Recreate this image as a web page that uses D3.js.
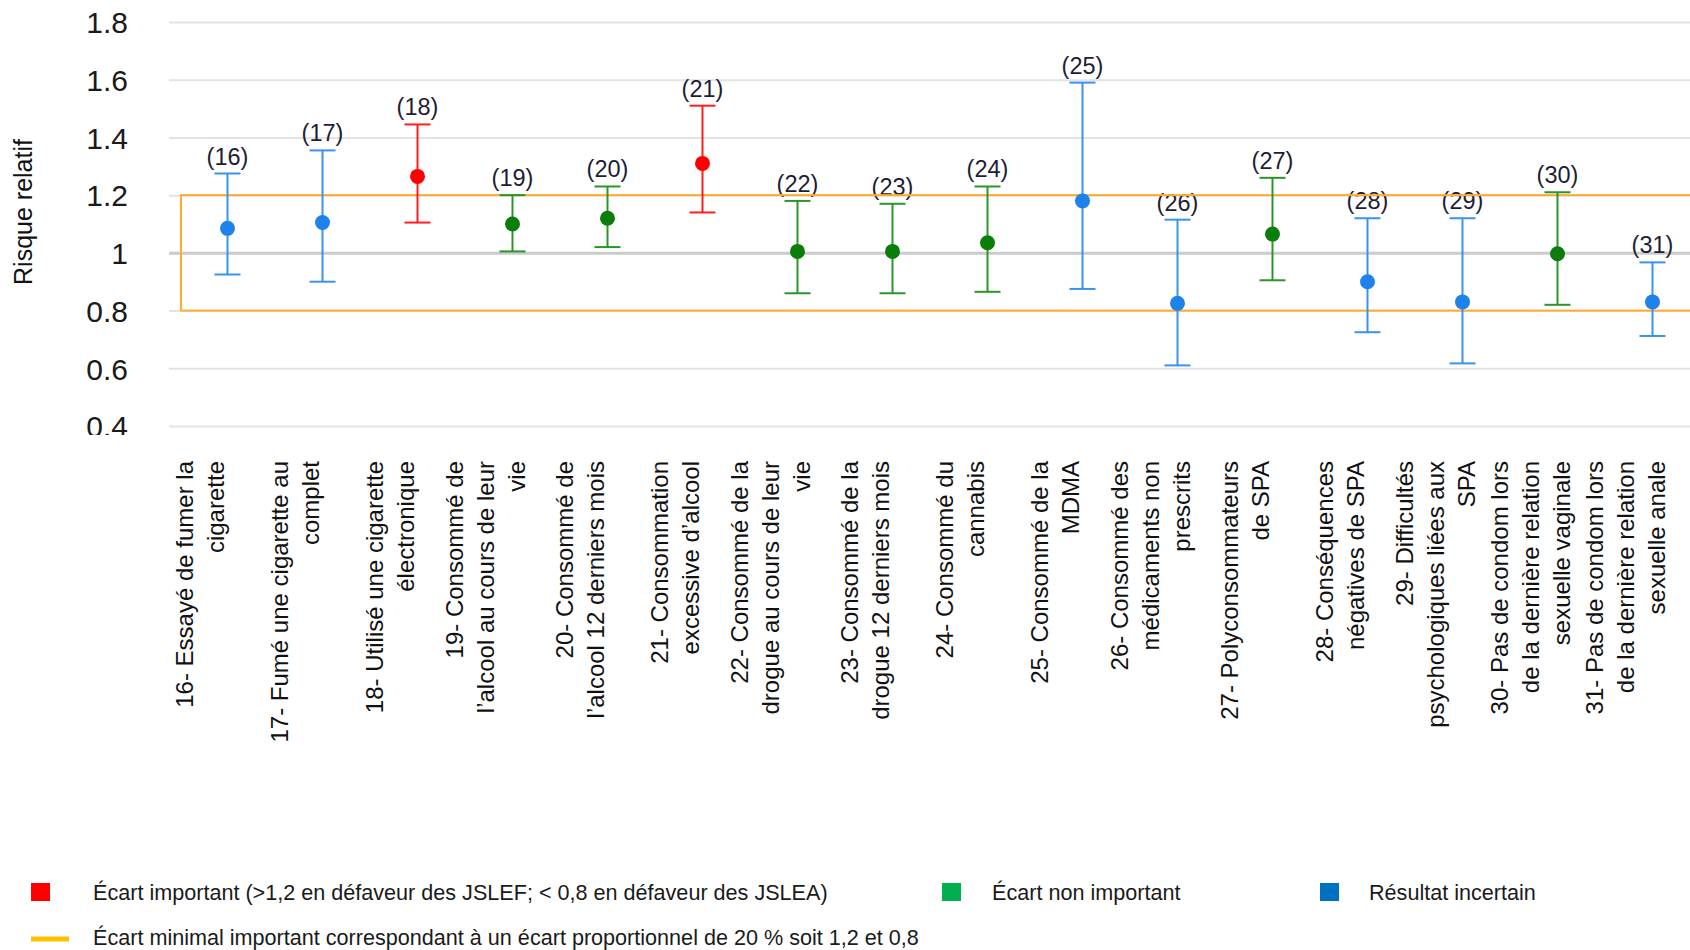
<!DOCTYPE html>
<html>
<head>
<meta charset="utf-8">
<script src="https://cdn.jsdelivr.net/npm/d3@7"></script>
<style>
  html, body { margin: 0; padding: 0; background: #ffffff; }
  svg { display: block; font-family: "Liberation Sans", Arial, Helvetica, sans-serif; }
</style>
</head>
<body>
<svg id="chart" width="1690" height="950"></svg>
<script>
// Indicators (category keys)
const indicators = ["16","17","18","19","20","21","22","23","24","25","26","27","28","29","30","31"];

// Category labels, already broken into lines
const labelLines = [
  ["16- Essayé de fumer la", "cigarette"],
  ["17- Fumé une cigarette au", "complet"],
  ["18- Utilisé une cigarette", "électronique"],
  ["19- Consommé de", "l’alcool au cours de leur", "vie"],
  ["20- Consommé de", "l’alcool 12 derniers mois"],
  ["21- Consommation", "excessive d’alcool"],
  ["22- Consommé de la", "drogue au cours de leur", "vie"],
  ["23- Consommé de la", "drogue 12 derniers mois"],
  ["24- Consommé du", "cannabis"],
  ["25- Consommé de la", "MDMA"],
  ["26- Consommé des", "médicaments non", "prescrits"],
  ["27- Polyconsommateurs", "de SPA"],
  ["28- Conséquences", "négatives de SPA"],
  ["29- Difficultés", "psychologiques liées aux", "SPA"],
  ["30- Pas de condom lors", "de la dernière relation", "sexuelle vaginale"],
  ["31- Pas de condom lors", "de la dernière relation", "sexuelle anale"]
];

// Relative risk: lower bound, point estimate, upper bound
const lower    = [0.925, 0.90, 1.105, 1.005, 1.02, 1.14, 0.86, 0.86, 0.865, 0.875, 0.61, 0.905, 0.725, 0.617, 0.82, 0.712];
const estimate = [1.085, 1.105, 1.265, 1.10, 1.12, 1.31, 1.005, 1.005, 1.035, 1.18, 0.825, 1.065, 0.90, 0.83, 0.997, 0.83];
const upper    = [1.275, 1.355, 1.445, 1.20, 1.23, 1.51, 1.18, 1.17, 1.23, 1.59, 1.115, 1.26, 1.12, 1.12, 1.21, 0.967];

// Classification of each result
const status = ["incertain","incertain","important","non","non","important","non","non","non",
                "incertain","incertain","non","incertain","incertain","non","incertain"];

// Y axis ticks
const yTicks      = [0.4, 0.6, 0.8, 1.0, 1.2, 1.4, 1.6, 1.8];
const yTickLabels = ["0.4", "0.6", "0.8", "1", "1.2", "1.4", "1.6", "1.8"];

// Minimal important difference band
const bandLow = 0.8, bandHigh = 1.2;

// Legend texts
const legendTexts = [
  "Écart important (>1,2 en défaveur des JSLEF; < 0,8 en défaveur des JSLEA)",
  "Écart non important",
  "Résultat incertain",
  "Écart minimal important correspondant à un écart proportionnel de 20 % soit 1,2 et 0,8"
];

// Styles
const barColor = { important: "#ff1c1c", non: "#2a962a", incertain: "#3a92ee" };
const dotColor = { important: "#ff0000", non: "#0b7d0b", incertain: "#1f82ea" };
const legendColor = { important: "#ff0000", non: "#00b050", incertain: "#0070c0", band: "#ffc000" };
const bandStroke = "#ffab2e";
const fontFamily = '"Liberation Sans", Arial, Helvetica, sans-serif';

const W = 1690, H = 950;
const svg = d3.select("#chart");

const x = d3.scaleBand().domain(indicators).range([180, 1700]).padding(0);
const cx = k => x(k) + x.bandwidth() / 2;
const y = d3.scaleLinear().domain([0.4, 1.8]).range([426, 22]);

const rows = indicators.map((k, i) => ({
  key: k, lines: labelLines[i], lo: lower[i], est: estimate[i], hi: upper[i], st: status[i]
}));

// clip for the y tick labels (bottom label is cut off)
svg.append("defs").append("clipPath").attr("id", "clipY")
  .append("rect").attr("x", -200).attr("y", 0).attr("width", 400).attr("height", 435);

// Gridlines
const grid = svg.append("g")
  .attr("transform", "translate(169,0)")
  .call(d3.axisLeft(y).tickValues(yTicks).tickSize(-(W - 169)).tickFormat(""));
grid.select(".domain").remove();
grid.selectAll(".tick line")
  .attr("stroke", d => d === 1 ? "#cbcbcb" : "#e3e3e3")
  .attr("stroke-width", d => d === 1 ? 3 : 2);

// Y tick labels
const yAxis = svg.append("g")
  .attr("transform", "translate(128,0)")
  .attr("clip-path", "url(#clipY)")
  .call(d3.axisLeft(y).tickValues(yTicks).tickSize(0).tickPadding(0)
    .tickFormat(d => yTickLabels[yTicks.indexOf(d)]));
yAxis.select(".domain").remove();
yAxis.attr("font-family", fontFamily).attr("font-size", 30);
yAxis.selectAll(".tick text").attr("fill", "#1a1a1a").attr("dy", "0.36em");

// Y axis title
svg.append("text")
  .attr("transform", "translate(23,212) rotate(-90)")
  .attr("text-anchor", "middle")
  .attr("dominant-baseline", "central")
  .attr("font-size", 25)
  .attr("fill", "#111")
  .text("Risque relatif");

// Value labels above the upper bounds
svg.append("g").selectAll("text").data(rows).join("text")
  .attr("x", d => cx(d.key))
  .attr("y", d => y(d.hi) - 9)
  .attr("text-anchor", "middle")
  .attr("font-size", 23.5)
  .attr("fill", "#1d1d35")
  .text(d => `(${d.key})`);

// Band 0.8 – 1.2
svg.append("rect")
  .attr("x", x.range()[0] + 1)
  .attr("y", y(bandHigh))
  .attr("width", x.range()[1] - x.range()[0])
  .attr("height", y(bandLow) - y(bandHigh))
  .attr("fill", "none")
  .attr("stroke", bandStroke)
  .attr("stroke-width", 2);

// Error bars with point estimates
const capHalf = 13;
const eb = svg.append("g").selectAll("g").data(rows).join("g")
  .attr("stroke", d => barColor[d.st])
  .attr("stroke-width", 2);
eb.append("line")
  .attr("x1", d => cx(d.key)).attr("x2", d => cx(d.key))
  .attr("y1", d => y(d.lo)).attr("y2", d => y(d.hi));
eb.append("line")
  .attr("x1", d => cx(d.key) - capHalf).attr("x2", d => cx(d.key) + capHalf)
  .attr("y1", d => y(d.hi)).attr("y2", d => y(d.hi));
eb.append("line")
  .attr("x1", d => cx(d.key) - capHalf).attr("x2", d => cx(d.key) + capHalf)
  .attr("y1", d => y(d.lo)).attr("y2", d => y(d.lo));
eb.append("circle")
  .attr("cx", d => cx(d.key)).attr("cy", d => y(d.est))
  .attr("r", 7.5)
  .attr("stroke", "none")
  .attr("fill", d => dotColor[d.st]);

// Category labels, rotated, right aligned at the top
const lineH = 31;
const xl = svg.append("g").attr("font-size", 24).attr("fill", "#111")
  .selectAll("g").data(rows).join("g")
  .attr("transform", d => `translate(${cx(d.key) - 27},461) rotate(-90)`);
xl.selectAll("text").data(d => d.lines.map((t, i) => ({ t, i, n: d.lines.length }))).join("text")
  .attr("x", 0)
  .attr("y", d => (d.i - (d.n - 1) / 2) * lineH + 8)
  .attr("text-anchor", "end")
  .text(d => d.t);

// Legend
const lg = svg.append("g").attr("font-size", 21.6).attr("fill", "#1a1a1a");
const legendRow1 = [
  { key: "important", sx: 31, tx: 93, text: legendTexts[0] },
  { key: "non", sx: 942, tx: 992, text: legendTexts[1] },
  { key: "incertain", sx: 1320, tx: 1369, text: legendTexts[2] }
];
lg.selectAll("rect").data(legendRow1).join("rect")
  .attr("x", d => d.sx).attr("y", 883)
  .attr("width", 19).attr("height", 18)
  .attr("fill", d => legendColor[d.key]);
lg.selectAll("text.r1").data(legendRow1).join("text")
  .attr("class", "r1")
  .attr("x", d => d.tx).attr("y", 900)
  .text(d => d.text);
lg.append("line")
  .attr("x1", 31).attr("x2", 69).attr("y1", 939).attr("y2", 939)
  .attr("stroke", legendColor.band).attr("stroke-width", 5);
lg.append("text").attr("x", 93).attr("y", 945).text(legendTexts[3]);
</script>
</body>
</html>
